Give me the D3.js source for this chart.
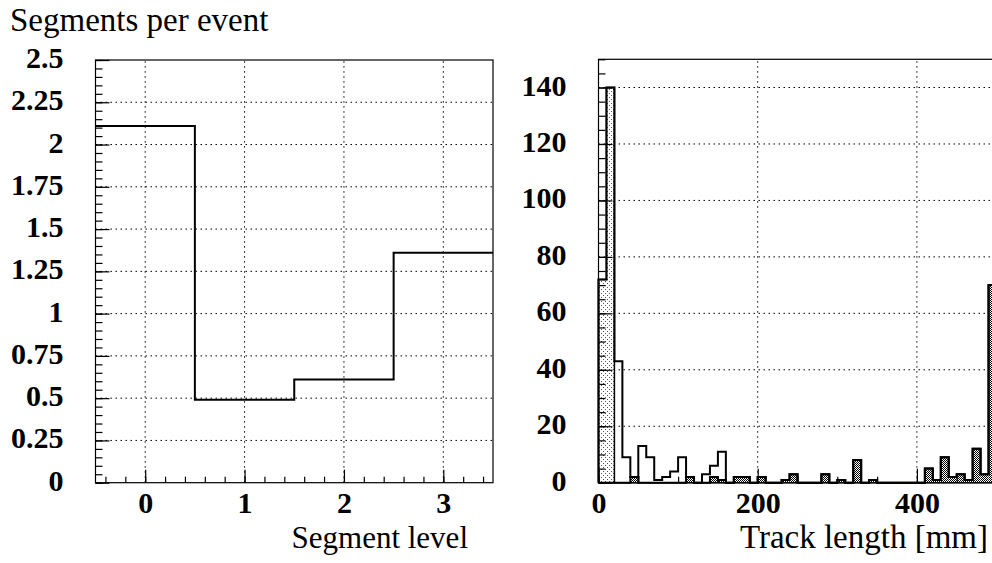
<html lang="en">
<head>
<meta charset="UTF-8">
<title>Segments per event / Track length</title>
<script src="https://d3js.org/d3.v7.min.js"></script>
<style>
    body { margin: 0; background: #fff; }
    text { font-family: "Liberation Serif", "Times New Roman", serif; fill: #000; }
    .lab text { font-size: 30px; font-weight: bold; }
    .grid { stroke: #000; stroke-width: 1; stroke-dasharray: 1.5,3.5; }
</style>
</head>
<body>
<svg width="992" height="563"></svg>
<script>
// left: mean number of segments per event vs segment level
const segLevels = [0, 1, 2, 3];
const segPerEvent = [2.11, 0.49, 0.61, 1.36];
const segYTicks = [0, 0.25, 0.5, 0.75, 1, 1.25, 1.5, 1.75, 2, 2.25, 2.5];
const segYLabels = ["0", "0.25", "0.5", "0.75", "1", "1.25", "1.5", "1.75", "2", "2.25", "2.5"];

// right: track length histograms, 10 mm bins from 0 to 500
const binWidth = 10;
const allTracks = [72, 140, 43, 9, 2, 13, 9, 1, 2, 4, 9, 2, 0, 3, 6, 11, 0, 2, 2, 0,
                   2, 0, 0, 1, 3, 0, 0, 0, 3, 0, 1, 0, 8, 0, 1, 0, 0, 0, 0, 0,
                   0, 5, 1, 9, 2, 3, 1, 12, 3, 70];
const shortTracks = [72, 140, 0, 0, 0, 0, 0, 0, 0, 0, 0, 0, 0, 0, 0, 0, 0, 0, 0, 0,
                     0, 0, 0, 0, 0, 0, 0, 0, 0, 0, 0, 0, 0, 0, 0, 0, 0, 0, 0, 0,
                     0, 0, 0, 0, 0, 0, 0, 0, 0, 0];
const fullTracks = [0, 0, 0, 0, 2, 0, 0, 0, 0, 0, 0, 2, 0, 0, 2, 1, 0, 2, 2, 0,
                    2, 0, 0, 1, 3, 0, 0, 0, 3, 0, 1, 0, 8, 0, 1, 0, 0, 0, 0, 0,
                    0, 5, 1, 9, 2, 3, 1, 12, 3, 70];
const lenXTicks = [0, 200, 400];
const lenYTicks = [0, 20, 40, 60, 80, 100, 120, 140];

const svg = d3.select("svg");

// fill patterns
const defs = svg.append("defs");
const dots = defs.append("pattern").attr("id", "dots")
    .attr("width", 4).attr("height", 4).attr("patternUnits", "userSpaceOnUse");
dots.append("rect").attr("width", 4).attr("height", 4).attr("fill", "#fff");
dots.append("rect").attr("x", 1).attr("y", 1).attr("width", 1).attr("height", 1).attr("fill", "#555");
dots.append("rect").attr("x", 3).attr("y", 3).attr("width", 1).attr("height", 1).attr("fill", "#555");
const checks = defs.append("pattern").attr("id", "checks")
    .attr("width", 2).attr("height", 2).attr("patternUnits", "userSpaceOnUse");
checks.append("rect").attr("width", 2).attr("height", 2).attr("fill", "#fff");
checks.append("rect").attr("width", 1).attr("height", 1).attr("fill", "#000");
checks.append("rect").attr("x", 1).attr("y", 1).attr("width", 1).attr("height", 1).attr("fill", "#000");

function styleAxis(g) {
    g.select(".domain").remove();
    g.selectAll("line").attr("stroke", "#000").attr("stroke-width", 1.2);
    g.attr("class", "lab");
}

// ---------- left panel ----------
const xL = d3.scaleLinear().domain([-0.5, 3.5]).range([95.5, 493]);
const yL = d3.scaleLinear().domain([0, 2.5]).range([482.7, 60]);
const left = svg.append("g");

left.selectAll(".gx").data(segLevels).enter().append("line").attr("class", "grid")
    .attr("x1", d => xL(d)).attr("x2", d => xL(d)).attr("y1", yL(0)).attr("y2", yL(2.5));
left.selectAll(".gy").data(segYTicks.slice(1, -1)).enter().append("line").attr("class", "grid")
    .attr("x1", xL(-0.5)).attr("x2", xL(3.5)).attr("y1", d => yL(d)).attr("y2", d => yL(d));

let segPath = d3.path();
segPerEvent.forEach((v, i) => {
    const x0 = xL(segLevels[i] - 0.5), x1 = xL(segLevels[i] + 0.5);
    if (i === 0) segPath.moveTo(x0, yL(v)); else segPath.lineTo(x0, yL(v));
    segPath.lineTo(x1, yL(v));
});
left.append("path").attr("d", segPath.toString())
    .attr("fill", "none").attr("stroke", "#000").attr("stroke-width", 2);

left.append("rect").attr("x", xL(-0.5)).attr("y", yL(2.5))
    .attr("width", xL(3.5) - xL(-0.5)).attr("height", yL(0) - yL(2.5))
    .attr("fill", "none").attr("stroke", "#000").attr("stroke-width", 1.2);

left.append("g").attr("transform", `translate(${xL(-0.5)},0)`)
    .call(d3.axisLeft(yL).tickValues(d3.range(0, 2.5001, 0.05)).tickSize(-7).tickFormat(""))
    .call(styleAxis);
left.append("g").attr("transform", `translate(${xL(-0.5)},0)`)
    .call(d3.axisLeft(yL).tickValues(segYTicks).tickSize(-14).tickPadding(32)
        .tickFormat((d, i) => segYLabels[i]))
    .call(styleAxis)
    .selectAll("text").attr("dy", "0.25em");
left.append("g").attr("transform", `translate(0,${yL(0)})`)
    .call(d3.axisBottom(xL).tickValues(d3.range(-0.4, 3.5, 0.2)).tickSize(-6).tickFormat(""))
    .call(styleAxis);
left.append("g").attr("transform", `translate(0,${yL(0)})`)
    .call(d3.axisBottom(xL).tickValues(segLevels).tickSize(-13).tickPadding(9).tickFormat(d3.format("d")))
    .call(styleAxis);

svg.append("text").attr("x", 10).attr("y", 31).style("font-size", "33px")
    .text("Segments per event");
svg.append("text").attr("x", 468).attr("y", 548).style("font-size", "31px")
    .attr("text-anchor", "end").text("Segment level");

// ---------- right panel ----------
const xR = d3.scaleLinear().domain([0, 500]).range([598.5, 996.5]);
const yR = d3.scaleLinear().domain([0, 150]).range([482.7, 59.3]);
const right = svg.append("g");

right.selectAll(".gx").data(lenXTicks.slice(1)).enter().append("line").attr("class", "grid")
    .attr("x1", d => xR(d)).attr("x2", d => xR(d)).attr("y1", yR(0)).attr("y2", yR(150));
right.selectAll(".gy").data(lenYTicks.slice(1)).enter().append("line").attr("class", "grid")
    .attr("x1", xR(0)).attr("x2", xR(500)).attr("y1", d => yR(d)).attr("y2", d => yR(d));

function stepPath(vals) {
    const p = d3.path();
    p.moveTo(xR(0), yR(0));
    vals.forEach((v, i) => {
        p.lineTo(xR(i * binWidth), yR(v));
        p.lineTo(xR((i + 1) * binWidth), yR(v));
    });
    p.lineTo(xR(vals.length * binWidth), yR(0));
    return p.toString();
}

function drawHist(vals, fill, sw) {
    right.append("g").selectAll("rect")
        .data(vals.map((v, i) => ({v, i})).filter(d => d.v > 0))
        .enter().append("rect")
        .attr("x", d => xR(d.i * binWidth))
        .attr("y", d => yR(d.v))
        .attr("width", xR(binWidth) - xR(0))
        .attr("height", d => yR(0) - yR(d.v))
        .attr("fill", fill);
    right.append("path").attr("d", stepPath(vals))
        .attr("fill", "none").attr("stroke", "#000").attr("stroke-width", sw);
}

drawHist(shortTracks, "url(#dots)", 1.5);
drawHist(fullTracks, "url(#checks)", 2);
right.append("path").attr("d", stepPath(allTracks))
    .attr("fill", "none").attr("stroke", "#000").attr("stroke-width", 2);

right.append("rect").attr("x", xR(0)).attr("y", yR(150))
    .attr("width", xR(500) - xR(0)).attr("height", yR(0) - yR(150))
    .attr("fill", "none").attr("stroke", "#000").attr("stroke-width", 1.2);

right.append("g").attr("transform", `translate(${xR(0)},0)`)
    .call(d3.axisLeft(yR).tickValues(d3.range(0, 151, 5)).tickSize(-7).tickFormat(""))
    .call(styleAxis);
right.append("g").attr("transform", `translate(${xR(0)},0)`)
    .call(d3.axisLeft(yR).tickValues(lenYTicks).tickSize(-14).tickPadding(32).tickFormat(d3.format("d")))
    .call(styleAxis)
    .selectAll("text").attr("dy", "0.25em");
right.append("g").attr("transform", `translate(0,${yR(0)})`)
    .call(d3.axisBottom(xR).tickValues(d3.range(0, 501, 50)).tickSize(-6).tickFormat(""))
    .call(styleAxis);
right.append("g").attr("transform", `translate(0,${yR(0)})`)
    .call(d3.axisBottom(xR).tickValues(lenXTicks).tickSize(-14).tickPadding(9).tickFormat(d3.format("d")))
    .call(styleAxis);

svg.append("text").attr("x", 988).attr("y", 548).style("font-size", "33px")
    .attr("text-anchor", "end").text("Track length [mm]");
</script>
</body>
</html>
